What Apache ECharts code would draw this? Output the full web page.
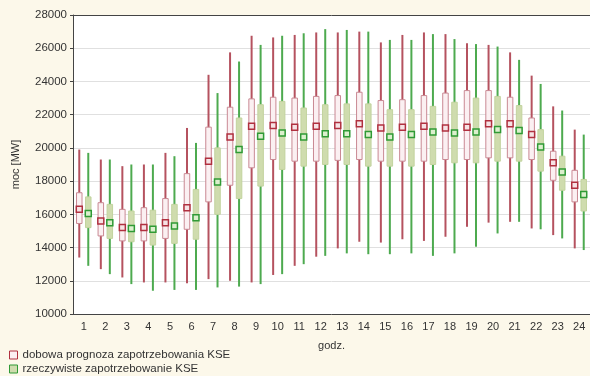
<!DOCTYPE html>
<html>
<head>
<meta charset="utf-8">
<script src="https://cdn.jsdelivr.net/npm/echarts@6/dist/echarts.min.js"></script>
<style>
  html, body { margin: 0; padding: 0; background: #fcf8ea; }
  #chart { width: 590px; height: 376px; }
</style>
</head>
<body>
<div id="chart"></div>
<script>
// Hours of the day
const hours = ['1','2','3','4','5','6','7','8','9','10','11','12','13','14','15','16','17','18','19','20','21','22','23','24'];

// Daily forecast of KSE demand [MW]: min, lower box edge, centre, upper box edge, max
const fcMin  = [13400,12700,12200,11900,11900,11850,12100,12000,11900,12350,12900,13450,13950,14350,14300,14500,14400,14650,15250,15500,15550,15150,14750,13950];
const fcLow  = [15450,14700,14400,14400,14550,15100,16750,17750,18800,19300,19200,19200,19250,19300,19200,19200,19200,19300,19300,19400,19400,19300,18050,16750];
const fcMid  = [16300,15600,15200,15200,15500,16400,19200,20650,21300,21350,21250,21300,21350,21450,21200,21250,21300,21200,21250,21450,21450,20800,19100,17750];
const fcHigh = [17300,16700,16300,16400,16950,18450,21250,22450,22950,23050,23000,23100,23150,23350,22850,22900,23150,23300,23450,23450,23050,21800,19800,18650];
const fcMax  = [19900,19300,18900,19000,19700,21200,24400,25750,26750,26650,26800,26950,26950,27000,26350,26800,26950,26850,26300,26200,25750,24350,22500,21100];

// Actual KSE demand [MW]
const acMin  = [12900,12400,11800,11400,11450,11450,11600,11650,11800,12400,13000,13500,13650,13600,13600,13650,13500,13650,14050,14850,15550,15100,14550,13850];
const acLow  = [15200,14550,14350,14150,14250,14500,16000,16950,17700,18700,18900,19000,19000,18900,18900,18900,19000,19100,19100,19200,19200,18600,17450,16200];
const acMid  = [16050,15500,15150,15100,15300,15800,17950,19900,20700,20900,20650,20850,20850,20800,20650,20800,20950,20900,20950,21100,21050,20050,18550,17200];
const acHigh = [17050,16600,16200,16250,16600,17500,20000,21800,22600,22800,22400,22600,22650,22650,22300,22300,22500,22750,23000,23100,22550,21100,19500,18100];
const acMax  = [19700,19300,19000,19000,19500,20300,23300,25200,26200,26750,26900,27150,27100,27000,26500,26500,26850,26550,26250,26100,25300,23850,22250,20800];

// Y axis ticks
const yTicks = [10000,12000,14000,16000,18000,20000,22000,24000,26000,28000];

const seriesNames = ['dobowa prognoza zapotrzebowania KSE', 'rzeczywiste zapotrzebowanie KSE'];

const redStyle = {
  whisker: '#b5525f', boxFill: '#fbf0f2', boxStroke: '#c98893',
  markFill: '#f6e2e5', markStroke: '#b0303f'
};
const greenStyle = {
  whisker: '#4daa4f', boxFill: '#cfdcae', boxStroke: '#c2d39e',
  markFill: '#dcefcd', markStroke: '#2f9a35'
};

function rows(mn, lo, md, hi, mx) {
  return hours.map((h, i) => [i, mn[i], lo[i], md[i], hi[i], mx[i]]);
}

function makeRender(offset, st) {
  return function (params, api) {
    const i = api.value(0);
    const cx = api.coord([i, api.value(3)])[0] + offset;
    const yMin = api.coord([i, api.value(1)])[1];
    const yLow = api.coord([i, api.value(2)])[1];
    const yMid = api.coord([i, api.value(3)])[1];
    const yHigh = api.coord([i, api.value(4)])[1];
    const yMax = api.coord([i, api.value(5)])[1];
    const bw = 5.5, mw = 6;
    return {
      type: 'group',
      children: [
        { type: 'line', shape: { x1: cx, y1: yMax, x2: cx, y2: yMin },
          style: { stroke: st.whisker, lineWidth: 2 } },
        { type: 'rect', shape: { x: cx - bw / 2, y: yHigh, width: bw, height: yLow - yHigh },
          style: { fill: st.boxFill, stroke: st.boxStroke, lineWidth: 1 } },
        { type: 'rect', shape: { x: cx - mw / 2, y: yMid - mw / 2, width: mw, height: mw },
          style: { fill: st.markFill, stroke: st.markStroke, lineWidth: 1.5 } }
      ]
    };
  };
}

const chart = echarts.init(document.getElementById('chart'), null, { renderer: 'canvas' });

const axisText = { color: '#333', fontFamily: 'Liberation Sans, Arial, sans-serif', fontSize: 11 };

chart.setOption({
  backgroundColor: '#fcf8ea',
  animation: false,
  grid: {
    left: 73, right: -4, top: 15, bottom: 62,
    show: true, backgroundColor: '#ffffff', borderWidth: 0
  },
  legend: {
    orient: 'vertical', left: 9, top: 349, padding: 0,
    itemWidth: 8, itemHeight: 8, itemGap: 2,
    textStyle: Object.assign({}, axisText, { fontSize: 11.5, lineHeight: 12 }),
    data: [
      { name: seriesNames[0], icon: 'rect',
        itemStyle: { color: redStyle.boxFill, borderColor: redStyle.markStroke, borderWidth: 1 } },
      { name: seriesNames[1], icon: 'rect',
        itemStyle: { color: greenStyle.boxFill, borderColor: greenStyle.markStroke, borderWidth: 1 } }
    ]
  },
  xAxis: [
    {
      type: 'category', data: hours, position: 'bottom',
      name: 'godz.', nameLocation: 'middle', nameGap: 26,
      nameTextStyle: axisText,
      axisLine: { lineStyle: { color: '#444', width: 1 } },
      axisTick: { inside: true, length: 3, alignWithLabel: true, lineStyle: { color: '#444' } },
      axisLabel: Object.assign({ margin: 7 }, axisText),
      splitLine: { show: false }
    },
    {
      type: 'category', data: hours, position: 'top',
      axisLine: { lineStyle: { color: '#444', width: 1 } },
      axisTick: { inside: true, length: 3, alignWithLabel: true, lineStyle: { color: '#444' } },
      axisLabel: { show: false },
      splitLine: { show: false }
    }
  ],
  yAxis: {
    type: 'value', min: yTicks[0], max: yTicks[yTicks.length - 1], interval: 2000,
    name: 'moc [MW]', nameLocation: 'middle', nameGap: 52, nameRotate: 90,
    nameTextStyle: axisText,
    axisLine: { show: true, lineStyle: { color: '#444', width: 1 } },
    axisTick: { show: true, length: 3, lineStyle: { color: '#444' } },
    axisLabel: Object.assign({ margin: 6, formatter: v => String(v) }, axisText, { fontSize: 11.5 }),
    splitLine: { show: true, lineStyle: { color: '#e0e0e0', width: 1 } }
  },
  series: [
    {
      name: seriesNames[0], type: 'custom',
      itemStyle: { color: redStyle.markStroke },
      renderItem: makeRender(-4.5, redStyle),
      encode: { x: 0, y: [1, 2, 3, 4, 5] },
      data: rows(fcMin, fcLow, fcMid, fcHigh, fcMax),
      z: 3
    },
    {
      name: seriesNames[1], type: 'custom',
      itemStyle: { color: greenStyle.markStroke },
      renderItem: makeRender(4.5, greenStyle),
      encode: { x: 0, y: [1, 2, 3, 4, 5] },
      data: rows(acMin, acLow, acMid, acHigh, acMax),
      z: 3
    }
  ]
});
</script>
</body>
</html>
